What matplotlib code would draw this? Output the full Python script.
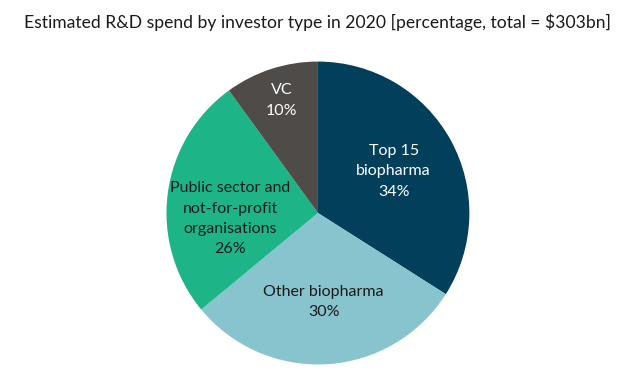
import numpy as np
import matplotlib
matplotlib.use("Agg")
import matplotlib.pyplot as plt

# data
labels = ["Top 15\nbiopharma", "Other biopharma", "Public sector and\nnot-for-profit\norganisations", "VC"]
shares = [34, 30, 26, 10]
colors = ["#023f5a", "#88c4ce", "#1db587", "#4e4b48"]
text_colors = ["white", "#1a1a1a", "#1a1a1a", "white"]
label_dist = [0.57, 0.59, 0.58, 0.78]
label_turn = [0, 0, 11, 0]  # degrees nudged off the wedge middle

plt.rcParams["font.family"] = ["Lato", "DejaVu Sans"]

fig = plt.figure(figsize=(6.36, 3.72), dpi=100)
# square axes centred on the pie
ax = fig.add_axes([0.2594, 0.0161, 0.481, 0.8226])

wedges, _ = ax.pie(shares, colors=colors, startangle=90, counterclock=False,
                   radius=1.0, wedgeprops=dict(linewidth=0))

for w, lab, val, tc, d, t in zip(wedges, labels, shares, text_colors, label_dist, label_turn):
    ang = np.deg2rad((w.theta1 + w.theta2) / 2 + t)
    ax.text(d * np.cos(ang), d * np.sin(ang), f"{lab}\n{val}%",
            ha="center", va="center", fontsize=11.5, color=tc, linespacing=1.58)

ax.set_xlim(-1.01, 1.01)
ax.set_ylim(-1.01, 1.01)
ax.set_aspect("equal")
ax.axis("off")

fig.text(0.5, 1 - 22 / 372, "Estimated R&D spend by investor type in 2020 [percentage, total = $303bn]",
         ha="center", va="center", fontsize=12.6, color="#1a1a1a")

fig.savefig("out.png", dpi=100)
